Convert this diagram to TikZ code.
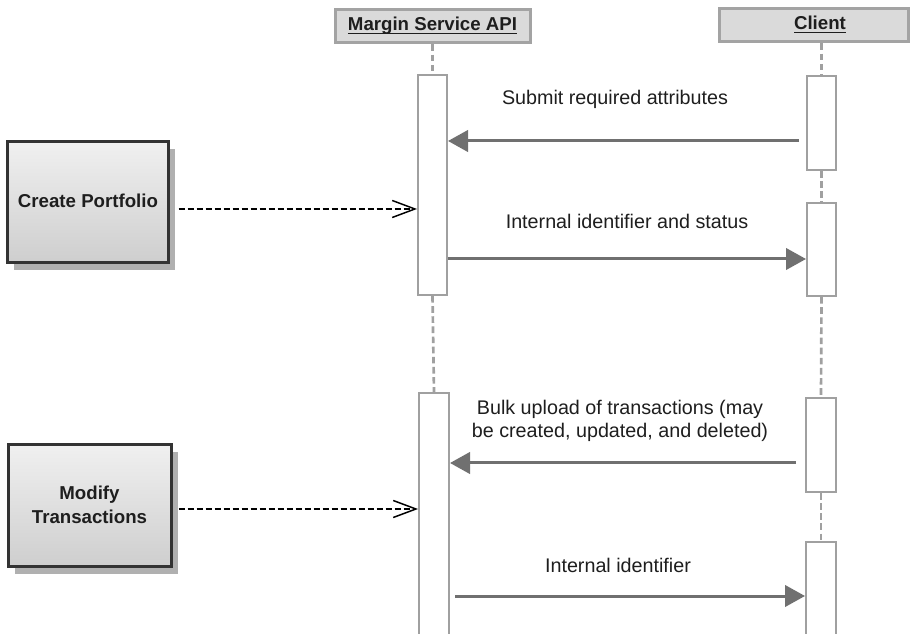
\documentclass[tikz,border=0pt]{standalone}
\usepackage{fontspec}
\setmainfont{Liberation Sans}
\usetikzlibrary{arrows.meta,shadows,fit}
\definecolor{lifegray}{HTML}{A0A0A0}
\definecolor{headfill}{HTML}{DADADA}
\definecolor{headline}{HTML}{A3A3A3}
\definecolor{msggray}{HTML}{707070}
\definecolor{boxtop}{HTML}{F0F0F0}
\definecolor{boxbot}{HTML}{CECECE}
\definecolor{boxline}{HTML}{333333}
\definecolor{shadowgray}{HTML}{B0B0B0}
\definecolor{txt}{HTML}{1E1E1E}
\tikzset{
  headbox/.style={draw=headline, line width=2.25pt, fill=headfill, inner sep=0pt,
    text=txt, font=\bfseries\fontsize{14}{17}\selectfont},
  headtext/.style={text=txt, font=\bfseries\fontsize{14}{17}\selectfont, inner sep=0pt, anchor=base},
  actbox/.style={draw=lifegray, line width=1.5pt, fill=white, inner sep=0pt},
  usecase/.style={draw=boxline, line width=2.25pt, top color=boxtop, bottom color=boxbot,
    inner sep=0pt, align=center, text=txt, font=\bfseries\fontsize{14}{18}\selectfont,
    drop shadow={shadow xshift=5.25pt, shadow yshift=-5.25pt, fill=shadowgray, opacity=1}},
  usetext/.style={text=txt, align=center, font=\bfseries\fontsize{14}{18}\selectfont, inner sep=0pt},
  lifeline/.style={draw=lifegray, line width=2pt, dash pattern=on 5pt off 2.6pt},
  msg/.style={draw=msggray, line width=2.25pt, -{Triangle[length=15pt,width=16pt]}},
  trig/.style={draw=black, line width=1.1pt, dash pattern=on 4.5pt off 2.25pt,
    -{Straight Barb[length=17pt,width=12.75pt,line width=1.1pt]}},
  msglabel/.style={text=txt, align=center, inner sep=0pt, font=\fontsize{14.8}{17.3}\selectfont}
}
\begin{document}
\begin{tikzpicture}[x=0.75pt,y=-0.75pt]
\useasboundingbox (0,0) rectangle (911,634);
% headers
\node[headbox, fit={(335,10)(530,43)}] (hm) {};
\node[headtext] (hmt) at (432.5,31) {\underline{\smash{Margin Service API}}};
\node[headbox, fit={(719,9)(908,42)}] (hc) {};
\node[headtext] (hct) at (820,30) {\underline{\smash{Client}}};
% activations
\node[actbox, fit={(418,75)(447,295)}] (m1) {};
\node[actbox, fit={(419,393)(449,645)}] (m2) {};
\node[actbox, fit={(807,76)(836,170)}] (c1) {};
\node[actbox, fit={(807,203)(836,296)}] (c2) {};
\node[actbox, fit={(806,398)(836,492)}] (c3) {};
\node[actbox, fit={(806,542)(836,645)}] (c4) {};
% lifelines
\draw[lifeline] (hm.south) -- (m1.north);
\draw[lifeline] (m1.south) -- (m2.north);
\draw[lifeline] (c1.north |- hc.south) -- (c1.north);
\draw[lifeline] (c1.south) -- (c2.north);
\draw[lifeline] (c2.south) -- (c3.north);
\draw[lifeline] (c3.south) -- (c4.north);
% use cases
\node[usecase, fit={(7,142)(168,263)}] (cp) {};
\node[usetext] (cpt) at (88,201) {Create Portfolio};
\node[usecase, fit={(8,445)(171,567)}] (mt) {};
\node[usetext] (mtt) at (89.5,505) {Modify\\Transactions};
% trigger arrows
\draw[trig, shorten <=6.75pt] (cp.east |- 0,209) -- (m1.west |- 0,209);
\draw[trig, shorten <=4.5pt] (mt.east |- 0,509) -- (m2.west |- 0,509);
% messages
\draw[msg, shorten <=5.25pt] (c1.west |- 0,141) -- (m1.east |- 0,141);
\draw[msg] (m1.east |- 0,259) -- (c2.west |- 0,259);
\draw[msg, shorten <=6.75pt] (c3.west |- 0,463) -- (m2.east |- 0,463);
\draw[msg, shorten <=3.75pt] (m2.east |- 0,596) -- (c4.west |- 0,596);
% labels
\node[msglabel] (l1) at (615,99) {Submit required attributes};
\node[msglabel] (l2) at (627,221) {Internal identifier and status};
\node[msglabel] (l3) at (620,421) {Bulk upload of transactions (may\\be created, updated, and deleted)};
\node[msglabel] (l4) at (618,565) {Internal identifier};
\end{tikzpicture}
\end{document}
